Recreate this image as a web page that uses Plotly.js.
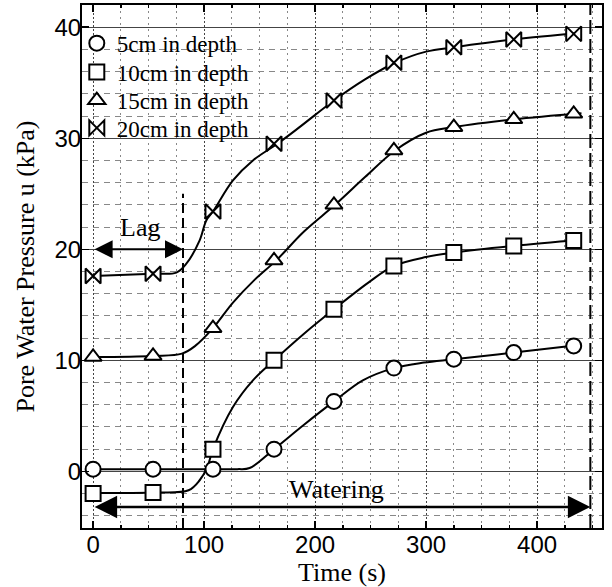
<!DOCTYPE html>
<html>
<head>
<meta charset="utf-8">
<script src="https://cdn.plot.ly/plotly-3.0.1.min.js"></script>
<style>html,body{margin:0;padding:0;background:#fff;}#chart{width:612px;height:587px;}</style>
</head>
<body>
<div id="chart"></div>
<script>
// Measurement times of the markers (s)
const times = [0, 54, 108, 163, 217, 271, 325, 379, 433];

// Marker values (kPa)
const depth5  = [0.2, 0.2, 0.2, 2.0, 6.3, 9.3, 10.1, 10.7, 11.3];
const depth10 = [-2.0, -1.9, 2.0, 10.0, 14.6, 18.5, 19.7, 20.3, 20.8];
const depth15 = [10.3, 10.4, 12.9, 19.0, 24.0, 28.9, 31.0, 31.7, 32.2];
const depth20 = [17.6, 17.8, 23.4, 29.5, 33.4, 36.8, 38.2, 38.9, 39.4];

// Smooth fitted curves
const curve5x  = [0, 54, 108, 130, 141, 163, 190, 217, 243, 271, 298, 325, 379, 440];
const curve5y  = [0.2, 0.2, 0.2, 0.2, 0.3, 2.0, 4.2, 6.3, 8.2, 9.3, 9.8, 10.1, 10.7, 11.4];
const curve10x = [0, 54, 86, 96, 103, 108, 126, 144, 163, 190, 217, 248, 271, 300, 325, 379, 440];
const curve10y = [-1.95, -1.9, -1.7, -0.8, 0.4, 2.0, 5.8, 8.2, 10.0, 12.4, 14.6, 17.0, 18.5, 19.3, 19.7, 20.3, 20.85];
const curve15x = [0, 54, 80, 92, 108, 126, 145, 165, 190, 218, 245, 272, 300, 325, 379, 440];
const curve15y = [10.3, 10.4, 10.6, 11.3, 12.9, 15.2, 17.2, 19.0, 21.6, 24.0, 26.5, 28.9, 30.5, 31.0, 31.7, 32.25];
const curve20x = [0, 54, 75, 84, 96, 102, 108, 126, 144, 166, 186, 217, 245, 272, 300, 326, 379, 440];
const curve20y = [17.6, 17.8, 17.9, 18.7, 20.8, 22.6, 23.4, 26.2, 28.0, 29.5, 31.0, 33.4, 35.3, 36.8, 37.8, 38.2, 38.9, 39.5];

const seriesNames = ['5cm in depth', '10cm in depth', '15cm in depth', '20cm in depth'];
const seriesSymbols = ['circle', 'square', 'triangle-up', 'bowtie'];

// Annotation positions (data units)
const lagEnd = 81;
const lagY = 20;
const wateringEnd = 448;
const wateringY = -3.2;
const xRange = [-10, 458.5];
const yRange = [-5.1, 42];

const curvesX = [curve5x, curve10x, curve15x, curve20x];
const curvesY = [curve5y, curve10y, curve15y, curve20y];
const markerY = [depth5, depth10, depth15, depth20];
const legendIds = ['legend', 'legend2', 'legend3', 'legend4'];

const traces = [];
for (let i = 0; i < 4; i++) {
  traces.push({
    x: curvesX[i], y: curvesY[i], type: 'scatter', mode: 'lines',
    line: {color: '#000', width: 2, shape: 'spline', smoothing: 1},
    showlegend: false, hoverinfo: 'skip'
  });
}
for (let i = 0; i < 4; i++) {
  traces.push({
    x: times, y: markerY[i], type: 'scatter', mode: 'markers', name: seriesNames[i],
    legend: legendIds[i],
    marker: {symbol: seriesSymbols[i], size: 15, color: '#fff', line: {color: '#000', width: 2}}
  });
}

const serif = 'Liberation Serif, Times New Roman, serif';
const sans = 'Liberation Sans, Arial, sans-serif';

function legendBox(yPaper) {
  return {
    x: -0.01, y: yPaper, xanchor: 'left', yanchor: 'middle',
    bgcolor: 'rgba(0,0,0,0)', borderwidth: 0,
    font: {family: serif, size: 23, color: '#000'},
    itemwidth: 30
  };
}

const layout = {
  width: 612, height: 587,
  margin: {l: 82, r: 10, t: 5, b: 59},
  paper_bgcolor: '#fff', plot_bgcolor: '#fff',
  showlegend: true,
  legend: legendBox(0.927),
  legend2: legendBox(0.872),
  legend3: legendBox(0.818),
  legend4: legendBox(0.765),
  xaxis: {
    range: xRange, dtick: 100, tick0: 0,
    showline: true, linecolor: '#000', linewidth: 2, mirror: 'ticks',
    ticks: 'inside', ticklen: 7, tickwidth: 1.5, tickcolor: '#000',
    tickfont: {family: sans, size: 24, color: '#000'},
    ticklabelstandoff: -6,
    showgrid: true, gridcolor: '#444', gridwidth: 1, griddash: '2px,2px',
    zeroline: false,
    minor: {dtick: 25, showgrid: true, gridcolor: '#888', gridwidth: 1, griddash: '2px,4px', ticks: 'inside', ticklen: 3, tickcolor: '#000'},
    title: {text: 'Time (s)', font: {family: serif, size: 26, color: '#000'}, standoff: 4}
  },
  yaxis: {
    range: yRange, dtick: 10, tick0: 0,
    showline: true, linecolor: '#000', linewidth: 2, mirror: 'ticks',
    ticks: 'inside', ticklen: 7, tickwidth: 1.5, tickcolor: '#000',
    tickfont: {family: sans, size: 24, color: '#000'},
    ticklabelstandoff: -6,
    showgrid: true, gridcolor: '#444', gridwidth: 1,
    zeroline: false,
    minor: {dtick: 2, showgrid: true, gridcolor: '#888', gridwidth: 1, griddash: '6px,5px', ticks: ''},
    title: {text: 'Pore Water Pressure u (kPa)', font: {family: serif, size: 26, color: '#000'}, standoff: 12}
  },
  shapes: [
    {type: 'line', xref: 'x', yref: 'y', x0: lagEnd, x1: lagEnd, y0: yRange[0], y1: 25,
     line: {color: '#000', width: 2, dash: '10px,5px'}},
    {type: 'line', xref: 'x', yref: 'y domain', x0: wateringEnd, x1: wateringEnd, y0: 0, y1: 1,
     line: {color: '#000', width: 2, dash: '14px,5px'}}
  ],
  annotations: [
    {x: lagEnd, y: lagY, ax: 0, ay: lagY, xref: 'x', yref: 'y', axref: 'x', ayref: 'y',
     text: '', showarrow: true, arrowhead: 2, arrowside: 'end+start', arrowsize: 1.8, arrowwidth: 2, arrowcolor: '#000'},
    {x: wateringEnd, y: wateringY, ax: 0, ay: wateringY, xref: 'x', yref: 'y', axref: 'x', ayref: 'y',
     text: '', showarrow: true, arrowhead: 2, arrowside: 'end+start', arrowsize: 1.8, arrowwidth: 2.5, arrowcolor: '#000'},
    {x: 42, y: 22, xref: 'x', yref: 'y', text: 'Lag', showarrow: false,
     font: {family: serif, size: 26, color: '#000'}},
    {x: 219, y: -1.6, xref: 'x', yref: 'y', text: 'Watering', showarrow: false,
     font: {family: serif, size: 26, color: '#000'}}
  ]
};

Plotly.newPlot('chart', traces, layout, {staticPlot: true, displayModeBar: false});
</script>
</body>
</html>
